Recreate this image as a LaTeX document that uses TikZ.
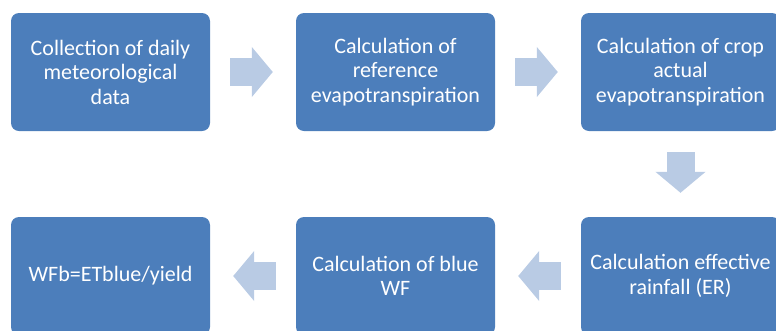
\documentclass[tikz,border=0pt]{standalone}
\usepackage{fontspec}
\setmainfont{Carlito}
\usetikzlibrary{arrows.meta}

\newlength{\du}
\setlength{\du}{1pt}

\definecolor{boxcolor}{rgb}{0.298039, 0.494118, 0.733333}
\definecolor{arrowcolor}{rgb}{0.725490, 0.796078, 0.894118}

\tikzset{
  stepbox/.style={fill=boxcolor, draw=none, rounded corners=8\du,
    minimum width=199\du, minimum height=118\du, inner sep=0pt,
    text=white, align=center, font=\fontsize{22}{24.5}\selectfont},
  flowarrow/.style={draw=arrowcolor, line width=28\du,
    -{Triangle[length=21pt,width=49pt]},
    shorten <=20\du, shorten >=23\du}
}

\begin{document}
\begin{tikzpicture}
\pgftransformxscale{1.000000}
\pgftransformyscale{-1.000000}
\useasboundingbox (0\du,0\du) rectangle (776\du,330\du);
\clip (0\du,0\du) rectangle (776\du,330\du);
% top row
\node[stepbox] (collect) at (110.5\du,72\du){Collection of daily\\meteorological\\data};
\node[stepbox] (reference) at (395.5\du,72\du){Calculation of\\reference\\evapotranspiration};
\node[stepbox] (crop) at (680.5\du,72\du){Calculation of crop\\actual\\evapotranspiration};
% bottom row
\node[stepbox] (rainfall) at (680.5\du,276\du){Calculation effective\\rainfall (ER)};
\node[stepbox] (bluewf) at (395.5\du,276\du){Calculation of blue\\WF};
\node[stepbox] (wfb) at (110.5\du,276\du){WFb=ETblue/yield};
% arrows
\draw[flowarrow] (collect) -- (reference);
\draw[flowarrow] (reference) -- (crop);
\draw[flowarrow, shorten <=21\du, shorten >=24\du] (crop) -- (rainfall);
\draw[flowarrow] (rainfall) -- (bluewf);
\draw[flowarrow] (bluewf) -- (wfb);
\end{tikzpicture}
\end{document}
